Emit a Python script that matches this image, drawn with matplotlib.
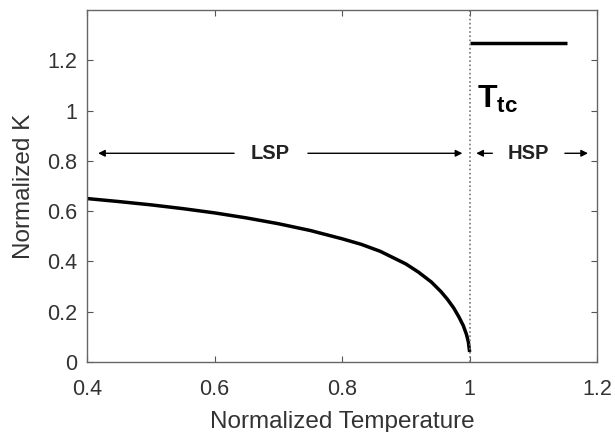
import numpy as np
import matplotlib.pyplot as plt

plt.rcParams['font.family'] = ['Liberation Sans', 'DejaVu Sans']
plt.rcParams['mathtext.fontset'] = 'custom'
plt.rcParams['mathtext.bf'] = 'Liberation Sans:bold'

# LSP curve
t_lsp = [0.4, 0.45, 0.5, 0.55, 0.6, 0.65, 0.7, 0.75, 0.8, 0.83, 0.86, 0.88, 0.9,
         0.92, 0.94, 0.955, 0.965, 0.975, 0.983, 0.99, 0.995, 0.998, 1.0]
k_lsp = [0.65, 0.638, 0.625, 0.61, 0.593, 0.573, 0.55, 0.523, 0.49, 0.468, 0.44, 0.415, 0.39,
         0.357, 0.318, 0.28, 0.25, 0.215, 0.18, 0.145, 0.11, 0.08, 0.04]

# HSP level
t_hsp = [1.0, 1.152]
k_hsp = [1.27, 1.27]

t_tc = 1.0

fig = plt.figure(figsize=(6.15, 4.32), dpi=100)
ax = fig.add_axes([0.1415, 0.162, 0.8295, 0.815])

ax.plot(t_lsp, k_lsp, color='black', lw=2.5, solid_capstyle='butt', solid_joinstyle='round')
ax.plot(t_hsp, k_hsp, color='black', lw=2.5, solid_capstyle='butt')
ax.axvline(t_tc, color='#777777', lw=1.2, ls=(0, (1, 1.5)))

ax.set_xlim(0.4, 1.2)
ax.set_ylim(0, 1.4)
ax.set_xticks([0.4, 0.6, 0.8, 1.0, 1.2])
ax.set_xticklabels(['0.4', '0.6', '0.8', '1', '1.2'])
ax.set_yticks([0, 0.2, 0.4, 0.6, 0.8, 1.0, 1.2])
ax.set_yticklabels(['0', '0.2', '0.4', '0.6', '0.8', '1', '1.2'])
ax.tick_params(direction='in', top=True, right=True, length=4, width=0.8,
               labelsize=15.5, colors='#555555', labelcolor='#333333')
ax.tick_params(axis='x', pad=12)
ax.tick_params(axis='y', pad=7)
for s in ax.spines.values():
    s.set_color('#666666')
    s.set_linewidth(1.0)

ax.set_xlabel('Normalized Temperature', fontsize=17.5, color='#333333', labelpad=8)
ax.set_ylabel('Normalized K', fontsize=17.5, color='#333333', labelpad=9)

# LSP double arrow
arr = dict(arrowstyle='-|>', color='black', lw=1, mutation_scale=10)
ax.annotate('', xy=(0.413, 0.83), xytext=(0.635, 0.83), arrowprops=arr)
ax.annotate('', xy=(0.993, 0.83), xytext=(0.742, 0.83), arrowprops=arr)
ax.text(0.688, 0.83, 'LSP', ha='center', va='center', fontsize=14.5, fontweight='bold', color='#222222')

# HSP double arrow
ax.annotate('', xy=(1.006, 0.83), xytext=(1.04, 0.83), arrowprops=arr)
ax.annotate('', xy=(1.19, 0.83), xytext=(1.145, 0.83), arrowprops=arr)
ax.text(1.092, 0.83, 'HSP', ha='center', va='center', fontsize=14.5, fontweight='bold', color='#222222')

ax.text(1.011, 1.045, r'$\mathbf{T_{tc}}$', ha='left', va='center', fontsize=23)

fig.savefig('out.png', dpi=100)
